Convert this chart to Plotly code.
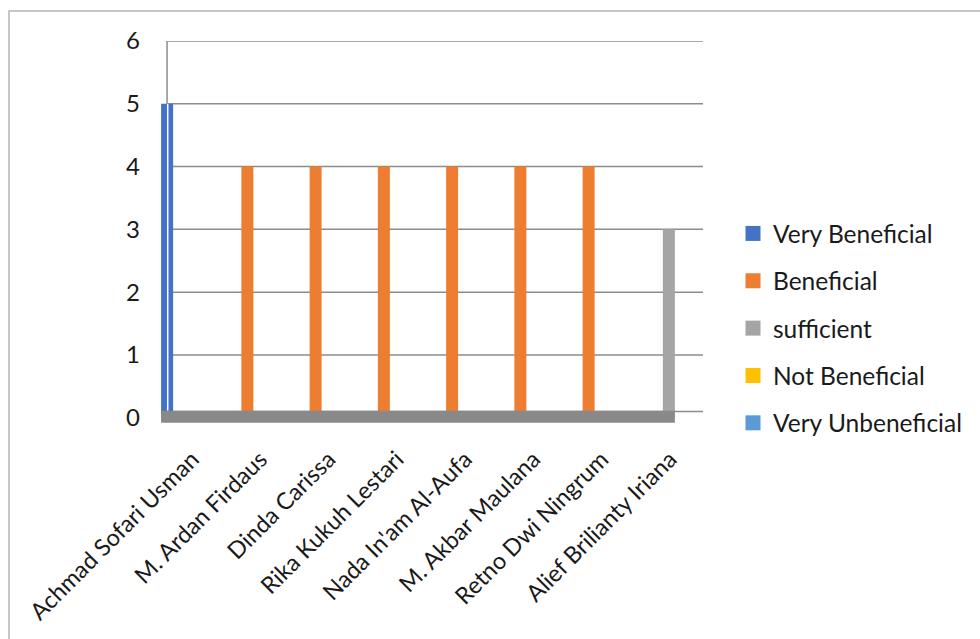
import plotly.graph_objects as go

categories = ["Achmad Sofari Usman", "M. Ardan Firdaus", "Dinda Carissa",
              "Rika Kukuh Lestari", "Nada In'am Al-Aufa", "M. Akbar Maulana",
              "Retno Dwi Ningrum", "Alief Brilianty Iriana"]
series_names = ["Very Beneficial", "Beneficial", "sufficient",
                "Not Beneficial", "Very Unbeneficial"]
very_beneficial = [5, 0, 0, 0, 0, 0, 0, 0]
beneficial = [0, 4, 4, 4, 4, 4, 4, 0]
sufficient = [0, 0, 0, 0, 0, 0, 0, 3]
not_beneficial = [0, 0, 0, 0, 0, 0, 0, 0]
very_unbeneficial = [0, 0, 0, 0, 0, 0, 0, 0]
y_ticks = [0, 1, 2, 3, 4, 5, 6]

series_values = [very_beneficial, beneficial, sufficient, not_beneficial, very_unbeneficial]
colors = ["#4472C4", "#ED7D31", "#A5A5A5", "#FFC000", "#5B9BD5"]

W, H = 980, 639
L, R, T, B = 157, 703, 41, 424
FONT = "Lato"
TXT = "#1a1a1a"
GRID = "#8C8C8C"

fig = go.Figure()
for name, vals, col in zip(series_names, series_values, colors):
    fig.add_trace(go.Bar(x=categories, y=vals, name=name, marker_color=col,
                         marker_line_width=0, showlegend=False))
for name, col in zip(series_names, colors):
    fig.add_trace(go.Scatter(x=[None], y=[None], mode="markers", name=name,
                             legendgroup=name,
                             marker=dict(symbol="square", size=15, color=col)))

shapes = []
# gridlines (3D back-wall style)
for v in y_ticks:
    yy = v if v > 0 else 0.1
    shapes.append(dict(type="line", xref="x", yref="y", x0=-0.353, x1=7.5,
                       y0=yy, y1=yy, line=dict(color=GRID, width=1.5), layer="below"))
# vertical axis line
shapes.append(dict(type="line", xref="x", yref="y", x0=-0.353, x1=-0.353,
                   y0=0.1, y1=6, line=dict(color=GRID, width=1.5), layer="below"))
# thin highlight stripe on the first column (3D edge)
shapes.append(dict(type="line", xref="x", yref="y", x0=-0.343, x1=-0.343,
                   y0=0.11, y1=very_beneficial[0], line=dict(color="white", width=1.5),
                   layer="above"))
# floor
shapes.append(dict(type="rect", xref="x", yref="y", x0=-0.44, x1=7.088,
                   y0=-0.08, y1=0.11, fillcolor="#898989", line=dict(width=0),
                   layer="above"))
# outer chart border
pw, ph = R - L, B - T
shapes.append(dict(type="rect", xref="paper", yref="paper",
                   x0=(9 - L) / pw, x1=(995 - L) / pw,
                   y0=(B - 660) / ph, y1=(B - 11) / ph,
                   line=dict(color="#B4B4B4", width=1.5), fillcolor="rgba(0,0,0,0)",
                   layer="below"))

fig.update_layout(
    width=W, height=H,
    margin=dict(l=L, r=W - R, t=T, b=H - B, pad=0, autoexpand=False),
    paper_bgcolor="white", plot_bgcolor="white",
    barmode="group", bargap=0.12, bargroupgap=0,
    font=dict(family=FONT, size=23, color=TXT),
    shapes=shapes,
    showlegend=True,
    legend=dict(x=(733 - L) / pw, xanchor="left", y=(B - 211) / ph, yanchor="top",
                font=dict(family=FONT, size=24.5, color=TXT),
                tracegroupgap=12.5, bgcolor="rgba(0,0,0,0)"),
    xaxis=dict(type="category", categoryorder="array", categoryarray=categories,
               range=[-0.5, 7.5], showgrid=False, zeroline=False, showline=False,
               automargin=False,
               tickangle=-45, tickfont=dict(family=FONT, size=23.5, color=TXT),
               ticks="", ticklabelstandoff=16, ticklabelshift=1),
    yaxis=dict(range=[-0.1, 6], tickvals=y_ticks, showgrid=False, zeroline=False,
               showline=False, ticks="", ticklabelstandoff=16, automargin=False,
               tickfont=dict(family=FONT, size=24, color=TXT)),
)

fig.write_html("out.html")
